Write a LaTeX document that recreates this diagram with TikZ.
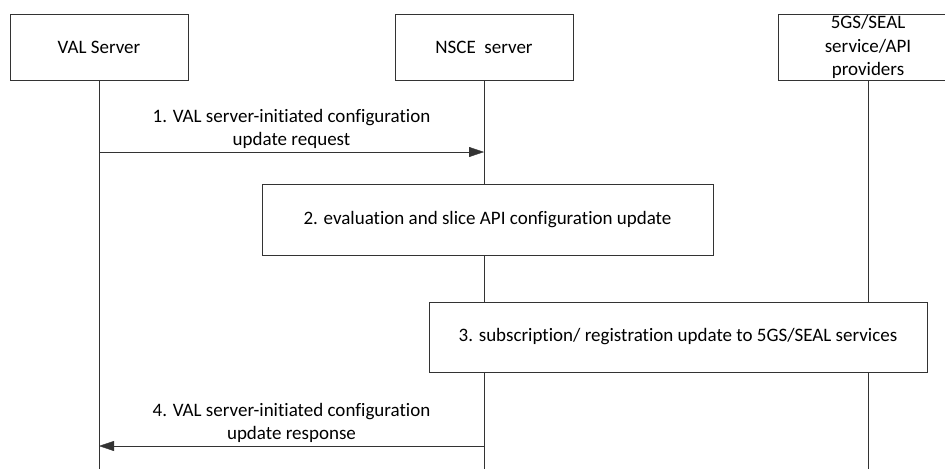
\documentclass[tikz,border=0pt]{standalone}
\usepackage{fontspec}
\setmainfont{Carlito}[Ligatures=NoCommon]
\usepackage{tikz}
\usetikzlibrary{positioning, arrows.meta}
\tikzstyle{ent}=[draw=black!80, fill=white, minimum width=178pt, minimum height=66pt, align=center, inner sep=1pt]
\tikzstyle{act}=[draw=black!80, fill=white, align=center]
\tikzstyle{msg}=[draw=black!80]

\begin{document}
\begin{tikzpicture}[x=1pt, y=1pt, node distance=385pt, > = {Triangle[length=15pt, width=10pt]},
                    font=\fontsize{19}{23.5}\selectfont]
                    \useasboundingbox (0,0) rectangle (945,-469);
                    \node [ent] (val) at (99,-47) {VAL Server};
                    \node [ent] (nsce) [right of=val] {NSCE\ \ server};
                    \node [ent, minimum width=180pt] (seal) [right of=nsce, node distance=384pt] {\raisebox{-2pt}{5GS/SEAL}\\\raisebox{-2pt}{service/API}\\\raisebox{-2pt}{providers}};
                    \coordinate (valend) at (val.south |- 0,-469);
                    \coordinate (nsceend) at (nsce.south |- 0,-469);
                    \coordinate (sealend) at (seal.south |- 0,-469);
                    \draw [msg] (val) -- (valend);
                    \draw [msg] (nsce) -- (nsceend);
                    \draw [msg] (seal) -- (sealend);
                    \node [act, minimum width=451pt, minimum height=71pt] (eval) [below of=nsce, node distance=172.5pt, xshift=3.5pt] {2. evaluation and slice API configuration update};
                    \node [act, minimum width=498pt, minimum height=70pt] (subs) at (678,-337) {3. subscription/ registration update to 5GS/SEAL services};
                    \coordinate (r1a) at (val.south |- 0,-152);
                    \coordinate (r1b) at (nsce.south |- 0,-152);
                    \coordinate (r4a) at (nsce.south |- 0,-446);
                    \coordinate (r4b) at (val.south |- 0,-446);
                    \draw [->, msg] (r1a) -- node [above, align=center, inner sep=3pt] {1. VAL server-initiated configuration\\update request} (r1b);
                    \draw [->, msg] (r4a) -- node [above, align=center, inner sep=3pt] {4. VAL server-initiated configuration\\update response} (r4b);
                \end{tikzpicture}
\end{document}
